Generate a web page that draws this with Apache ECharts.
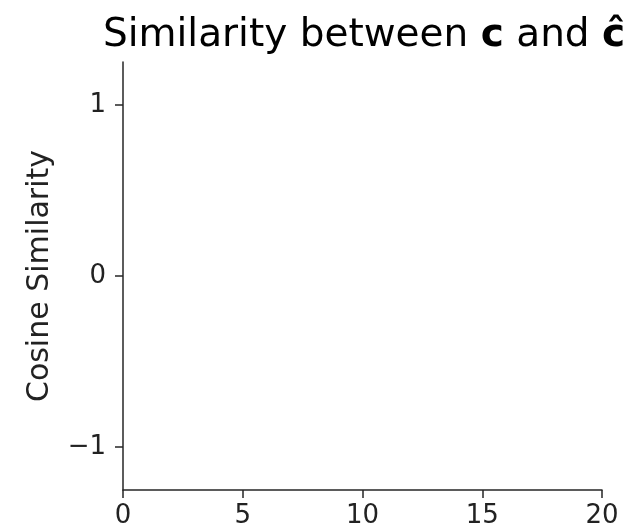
<!DOCTYPE html>
<html>
<head>
<meta charset="utf-8">
<script src="https://cdn.jsdelivr.net/npm/echarts@6/dist/echarts.min.js"></script>
<style>
html,body{margin:0;padding:0;background:#fff;}
#chart{width:637px;height:532px;}
</style>
</head>
<body>
<div id="chart"></div>
<script>
// The reference plot is empty: only the axes are drawn.
const steps = [];          // x values (none plotted)
const similarity = [];     // cosine similarity values (none plotted)
const xTicks = [0, 5, 10, 15, 20];
const yTicks = [-1, 0, 1];

const chart = echarts.init(document.getElementById('chart'), null, {renderer: 'canvas'});
const font = 'DejaVu Sans';
const axisColor = '#262626';
const option = {
  animation: false,
  backgroundColor: '#ffffff',
  title: {
    text: '{n|Similarity between }{b|c}{n| and }{b|ĉ}',
    left: 359, top: 11, textAlign: 'center',
    textStyle: {
      fontWeight: 'normal',
      rich: {
        n: {fontFamily: font, fontSize: 39, fontWeight: 'normal', color: '#000'},
        b: {fontFamily: font, fontSize: 39, fontWeight: 'bold', color: '#000'}
      }
    }
  },
  grid: {left: 123, right: 35, top: 62, bottom: 42, containLabel: false},
  xAxis: {
    type: 'value', min: 0, max: 20, interval: 5,
    axisLine: {show: true, onZero: false, lineStyle: {color: axisColor, width: 1.5}},
    axisTick: {show: true, length: 8, lineStyle: {color: axisColor, width: 1.5}},
    axisLabel: {fontFamily: font, fontSize: 26, color: '#222', margin: 13},
    splitLine: {show: false}
  },
  yAxis: {
    type: 'value', min: -1.25, max: 1.25,
    name: 'Cosine Similarity', nameLocation: 'middle', nameGap: 68,
    nameTextStyle: {fontFamily: font, fontSize: 30, color: '#222'},
    axisLine: {show: true, onZero: false, lineStyle: {color: axisColor, width: 1.5}},
    axisTick: {show: true, length: 8, customValues: yTicks, lineStyle: {color: axisColor, width: 1.5}},
    axisLabel: {
      fontFamily: font, fontSize: 26, color: '#222', margin: 17,
      customValues: yTicks,
      formatter: v => (v < 0 ? '\u2212' + Math.abs(v) : String(v))
    },
    splitLine: {show: false}
  },
  series: [{
    type: 'line',
    data: steps.map((x, i) => [x, similarity[i]]),
    showSymbol: false
  }]
};
chart.setOption(option);
</script>
</body>
</html>
